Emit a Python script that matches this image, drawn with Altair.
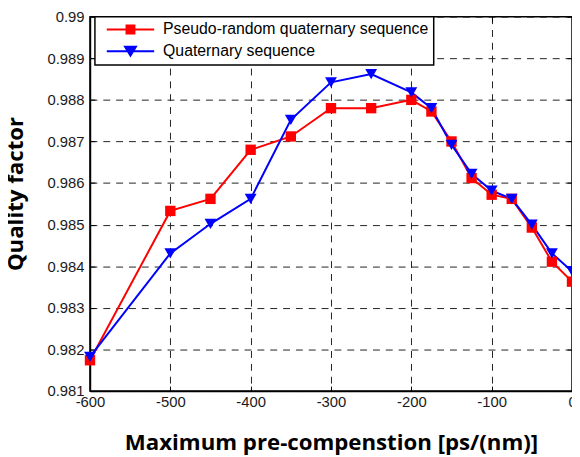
import altair as alt
import pandas as pd

# ---- data ----
x_vals = [-600, -500, -450, -400, -350, -300, -250, -200, -175, -150, -125, -100, -75, -50, -25, 0]
pseudo_random = [0.98174, 0.98533, 0.98562, 0.98680, 0.98712, 0.98780, 0.98780, 0.98800,
                 0.98772, 0.98700, 0.98612, 0.98572, 0.98562, 0.98493, 0.98411, 0.98363]
quaternary = [0.98182, 0.98431, 0.98502, 0.98562, 0.98752, 0.98842, 0.98862, 0.98818,
              0.98780, 0.98692, 0.98622, 0.98582, 0.98562, 0.98500, 0.98431, 0.98388]
series_names = ["Pseudo-random quaternary sequence", "Quaternary sequence"]
series_colors = ["#ff0000", "#0000ff"]
marker_shapes = ["square", "triangle-down"]
marker_sizes = [110, 144]
x_ticks = [-600, -500, -400, -300, -200, -100, 0]
y_ticks = [0.981, 0.982, 0.983, 0.984, 0.985, 0.986, 0.987, 0.988, 0.989, 0.99]

# legend glyphs: line segment + marker
legend_paths = [
    "M-4.8,0H4.8M-0.8,-0.8H0.8V0.8H-0.8Z",
    "M-4.8,0H4.8M-1.1,-0.9H1.1L0,0.9Z",
]

rows = []
for name, vals, shp, sz in zip(series_names, [pseudo_random, quaternary], marker_shapes, marker_sizes):
    for xv, yv in zip(x_vals, vals):
        rows.append({"x": xv, "y": yv, "series": name, "mshape": shp, "msize": sz})
df = pd.DataFrame(rows)

W, H = 488, 379

x_scale = alt.Scale(domain=[-600, 0], nice=False, zero=False)
y_scale = alt.Scale(domain=[0.981, 0.99], nice=False, zero=False)

xenc = alt.X("x:Q", scale=x_scale,
             axis=alt.Axis(orient="bottom", values=x_ticks, labelExpr="'' + datum.value",
                           labelFlush=False, grid=True,
                           title="Maximum pre-compenstion [ps/(nm)]",
                           titleX=W / 2, titleY=59, titleBaseline="alphabetic",
                           labelPadding=4))
yenc = alt.Y("y:Q", scale=y_scale,
             axis=alt.Axis(orient="left", values=y_ticks, format=".3~f", title="Quality factor",
                           labelFlush=False, grid=True,
                           titleAngle=-90, titleX=-68, titleY=179,
                           titleBaseline="alphabetic", titleAlign="center",
                           labelPadding=6))


def tick_axis(orient, values):
    # inward tick marks only (no labels, grid or domain)
    return alt.Axis(orient=orient, values=values, offset=-5, tickSize=5, ticks=True,
                    tickColor="black", tickWidth=1, labels=False, grid=False,
                    domain=False, title=None)


# data-driven domain (sorted names -> red, blue) so it is not merged with the legend scales
color_scale = alt.Scale(range=series_colors)

lines = alt.Chart(df).mark_line(strokeWidth=2).encode(
    x=xenc, y=yenc,
    color=alt.Color("series:N", scale=color_scale, legend=None),
)
points = alt.Chart(df).mark_point(filled=True, opacity=1).encode(
    x=alt.X("x:Q", scale=x_scale, axis=None),
    y=alt.Y("y:Q", scale=y_scale, axis=None),
    color=alt.Color("series:N", scale=color_scale, legend=None),
    shape=alt.Shape("mshape:N", scale=None),
    size=alt.Size("msize:Q", scale=None),
)
leg = alt.Legend(title=None, orient="none", legendX=5, legendY=0)
legend_layer = alt.Chart(df).transform_filter("datum.x > 1000").mark_point(
    filled=True, size=100, strokeWidth=2, opacity=1
).encode(
    x=alt.X("x:Q", scale=x_scale, axis=tick_axis("bottom", x_ticks)),
    y=alt.Y("y:Q", scale=y_scale, axis=tick_axis("left", y_ticks)),
    fill=alt.Fill("series:N", scale=alt.Scale(domain=series_names, range=series_colors), legend=leg),
    stroke=alt.Stroke("series:N", scale=alt.Scale(domain=series_names, range=series_colors), legend=leg),
    shape=alt.Shape("series:N", scale=alt.Scale(domain=series_names, range=legend_paths), legend=leg),
)
tick_layer = alt.Chart(df).transform_filter("datum.x > 1000").mark_point(opacity=0).encode(
    x=alt.X("x:Q", scale=x_scale, axis=tick_axis("top", x_ticks)),
    y=alt.Y("y:Q", scale=y_scale, axis=tick_axis("right", y_ticks)),
)

chart = alt.layer(lines, points, legend_layer, tick_layer).properties(
    width=W, height=H,
    autosize=alt.AutoSizeParams(type="none"),
    padding={"left": 83, "top": 6, "right": 0, "bottom": 64},
).configure_view(
    stroke="black", strokeWidth=1.5
).configure_axis(
    gridColor="#222222", gridDash=[7, 6], gridWidth=1, gridOpacity=1,
    domain=True, domainColor="black", domainWidth=1.5,
    ticks=False,
    labelFont="Liberation Sans", labelFontSize=15, labelColor="#1a1a1a",
    titleFont="Open Sans", titleFontSize=22.5, titleFontWeight="bold", titleColor="black",
).configure_legend(
    fillColor="white", strokeColor="black", strokeWidth=1.5, cornerRadius=0,
    padding=5, rowPadding=5,
    symbolSize=100, symbolStrokeWidth=2, symbolOffset=23, labelOffset=25,
    symbolOpacity=1,
    labelFont="Liberation Sans", labelFontSize=16, labelColor="black",
    labelLimit=400,
)

chart.save("out.html", embed_options={"renderer": "svg", "actions": False})
